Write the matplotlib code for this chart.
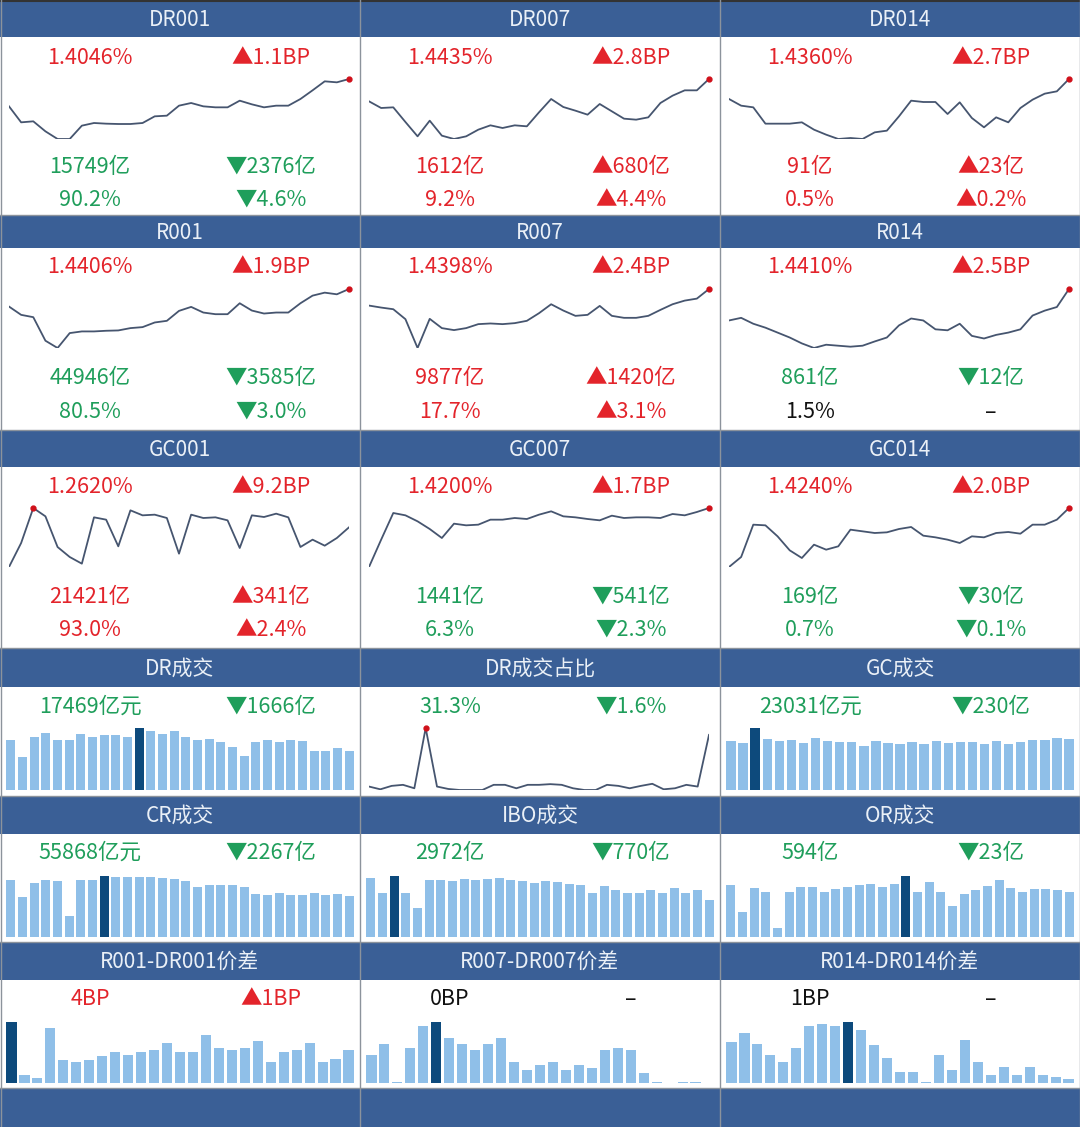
import matplotlib
matplotlib.use("Agg")
import matplotlib.pyplot as plt
from matplotlib.patches import Rectangle
import numpy as np

plt.rcParams['font.family'] = ['Noto Sans CJK SC', 'DejaVu Sans']

# ---------------- data ----------------
rate_titles = ["DR001", "DR007", "DR014", "R001", "R007", "R014", "GC001", "GC007", "GC014"]
rate_values = ["1.4046%", "1.4435%", "1.4360%", "1.4406%", "1.4398%", "1.4410%", "1.2620%", "1.4200%", "1.4240%"]
rate_chg_bp = [1.1, 2.8, 2.7, 1.9, 2.4, 2.5, 9.2, 1.7, 2.0]
volume_yi = [15749, 1612, 91, 44946, 9877, 861, 21421, 1441, 169]
volume_chg_yi = [-2376, 680, 23, -3585, 1420, -12, 341, -541, -30]
share_pct = [90.2, 9.2, 0.5, 80.5, 17.7, 1.5, 93.0, 6.3, 0.7]
share_chg_pct = [-4.6, 4.4, 0.2, -3.0, 3.1, None, 2.4, -2.3, -0.1]

# rate curves (relative level read from the sparklines)
dr001 = [130, 82, 85, 55, 32, 32, 72, 80, 78, 77, 77, 80, 100, 102, 132, 140, 130, 127, 127, 147, 136, 127, 132, 132, 152, 178, 205, 202, 212]
dr007 = [145, 125, 127, 83, 40, 87, 42, 32, 40, 60, 73, 65, 73, 70, 112, 152, 128, 117, 105, 137, 115, 93, 90, 97, 140, 162, 178, 178, 212]
dr014 = [152, 132, 127, 78, 78, 78, 82, 60, 45, 32, 35, 32, 52, 57, 100, 147, 143, 143, 107, 142, 95, 67, 97, 82, 125, 150, 168, 175, 212]
r001 = [175, 150, 143, 72, 50, 95, 100, 100, 102, 103, 110, 113, 127, 132, 162, 174, 157, 152, 152, 185, 163, 154, 157, 157, 185, 208, 217, 212, 228]
r007 = [178, 172, 167, 137, 50, 138, 110, 104, 110, 122, 124, 122, 125, 132, 155, 182, 163, 147, 150, 177, 147, 141, 141, 147, 165, 182, 193, 199, 228]
r014 = [132, 140, 122, 110, 95, 80, 62, 48, 58, 55, 52, 55, 68, 80, 117, 138, 132, 105, 102, 122, 85, 77, 88, 95, 105, 147, 162, 173, 228]
gc001 = [38, 110, 215, 190, 98, 68, 48, 187, 180, 100, 208, 193, 195, 185, 78, 195, 185, 187, 178, 95, 193, 188, 198, 187, 98, 120, 102, 125, 157]
gc007 = [38, 120, 200, 193, 175, 152, 125, 168, 163, 165, 180, 180, 185, 182, 195, 205, 190, 187, 182, 178, 192, 185, 187, 187, 185, 197, 193, 203, 215]
gc014 = [38, 68, 165, 163, 130, 88, 65, 105, 90, 100, 150, 145, 140, 142, 152, 158, 132, 127, 120, 110, 130, 127, 140, 143, 138, 165, 165, 180, 215]
rate_curves = [dr001, dr007, dr014, r001, r007, r014, gc001, gc007, gc014]

# lower panels
panel_titles = ["DR成交", "DR成交占比", "GC成交", "CR成交", "IBO成交", "OR成交",
                "R001-DR001价差", "R007-DR007价差", "R014-DR014价差"]
panel_left = ["17469亿元", "31.3%", "23031亿元", "55868亿元", "2972亿", "594亿", "4BP", "0BP", "1BP"]
panel_right = ["▼1666亿", "▼1.6%", "▼230亿", "▼2267亿", "▼770亿", "▼23亿", "▲1BP", "–", "–"]
panel_left_tone = ["down", "down", "down", "down", "down", "down", "up", "flat", "flat"]
panel_right_tone = ["down", "down", "down", "down", "down", "down", "up", "flat", "flat"]

dr_volume = [22800, 14900, 24150, 25800, 22800, 22500, 25400, 24150, 24900, 25100, 24150, 28100, 26900, 25400,
             26600, 24150, 22800, 23250, 21600, 19600, 15350, 21600, 22500, 21600, 22800, 22000, 17500, 17500,
             19135, 17469]
dr_share = [30, 22, 32, 35, 25, 200, 30, 23, 20, 20, 20, 35, 35, 25, 35, 35, 37, 35, 25, 20, 20, 35, 32, 25, 32,
            38, 22, 25, 35, 30, 180]
gc_volume = [21820, 21070, 27840, 23030, 21820, 22270, 21070, 23330, 21820, 21520, 21520, 19870, 21820, 21070,
             20770, 21520, 20770, 21820, 21070, 21520, 21520, 20770, 21820, 20770, 21520, 22580, 22270, 23261, 23031]
cr_volume = [77600, 54500, 73500, 77600, 76300, 28600, 77600, 77600, 83100, 81700, 81700, 81700, 81700, 80400,
             79000, 76300, 68100, 70800, 70800, 70800, 68100, 58600, 57200, 59900, 57200, 57200, 59900, 57200,
             58135, 55868]
ibo_volume = [4740, 3535, 4900, 3535, 2330, 4580, 4580, 4500, 4660, 4580, 4660, 4740, 4580, 4500, 4340, 4500,
              4420, 4260, 4180, 3535, 4100, 3775, 3535, 3535, 3775, 3535, 3935, 3535, 3742, 2972]
or_volume = [686, 330, 647, 594, 119, 594, 660, 660, 594, 634, 660, 686, 700, 660, 700, 805, 594, 726, 594, 409,
             568, 620, 673, 752, 647, 594, 634, 634, 617, 594]
spread_001 = [6.6, 0.9, 0.5, 5.9, 2.5, 2.3, 2.5, 2.9, 3.4, 3.0, 3.4, 3.6, 4.3, 3.4, 3.4, 5.2, 3.8, 3.6, 3.8, 4.5,
              2.3, 3.4, 3.6, 4.3, 2.3, 2.6, 3.6]
spread_007 = [3.1, 4.4, 0.1, 3.9, 6.3, 6.8, 5.0, 4.4, 3.7, 4.4, 5.0, 2.3, 1.4, 2.0, 2.3, 1.4, 2.0, 1.7, 3.7, 3.9,
              3.7, 1.1, 0.1, 0.0, 0.1, 0.1, -0.4]
spread_014 = [4.6, 5.6, 4.4, 3.1, 2.3, 3.9, 6.4, 6.6, 6.4, 6.8, 5.9, 4.2, 2.8, 1.2, 1.2, 0.1, 3.1, 1.4, 4.8, 2.3,
              0.9, 1.8, 0.9, 1.8, 0.9, 0.7, 0.5]
panel_series = [dr_volume, dr_share, gc_volume, cr_volume, ibo_volume, or_volume, spread_001, spread_007, spread_014]
panel_kind = ["bar", "line", "bar", "bar", "bar", "bar", "bar", "bar", "bar"]

# ---------------- style ----------------
HEADER = '#3A5F96'
HEADER_TXT = '#EAF0F7'
RED = '#E3242B'
GREEN = '#1F9E5B'
BLACK = '#111111'
LINE = '#46556F'
DOT = '#D0101A'
BAR = '#8FBFE8'
BAR_DARK = '#0D4A7C'
SEP = '#8C939C'
tone_color = {"up": RED, "down": GREEN, "flat": BLACK}

W, H = 1080, 1127
fig = plt.figure(figsize=(W / 100, H / 100), dpi=100)
fig.patch.set_facecolor('white')

bg = fig.add_axes([0, 0, 1, 1])
bg.set_xlim(0, W)
bg.set_ylim(H, 0)
bg.axis('off')


def ax_px(x0, y0, x1, y1):
    a = fig.add_axes([x0 / W, 1 - y1 / H, (x1 - x0) / W, (y1 - y0) / H])
    a.axis('off')
    a.patch.set_alpha(0)
    return a


def rect(x0, y0, x1, y1, color):
    bg.add_patch(Rectangle((x0, y0), x1 - x0, y1 - y0, facecolor=color, edgecolor='none', zorder=1))


rows = [
    dict(hdr=(1, 37), ty=20, v1=58, band=(79, 139), v2=167, v3=200, bottom=214),
    dict(hdr=(216, 248), ty=233, v1=267, band=(289, 348), v2=378, v3=412, bottom=429),
    dict(hdr=(431, 467), ty=450, v1=487, band=(508, 567), v2=597, v3=630, bottom=647),
    dict(hdr=(649, 687), ty=669, v1=707, band=(728, 790), bottom=795),
    dict(hdr=(797, 834), ty=816, v1=853, band=(876, 937), bottom=941),
    dict(hdr=(943, 980), ty=962, v1=999, band=(1022, 1083), bottom=1087),
]

FS_T = 15
FS_V = 15.5
LX, RX = 90, 271


def draw_line(col, band, data):
    x0 = col * 360
    a = ax_px(x0 + 9, band[0], x0 + 349, band[1])
    n = len(data)
    xs = np.arange(n)
    a.plot(xs, data, color=LINE, lw=1.3, solid_joinstyle='round')
    k = int(np.argmax(data))
    a.plot([k], [data[k]], 'o', color=DOT, ms=3.5, clip_on=False, zorder=5)
    a.set_xlim(0, n - 1)
    a.set_ylim(min(data), max(data))


def draw_bar(col, band, data):
    x0 = col * 360
    a = ax_px(x0 + 5, band[0], x0 + 355, band[1])
    n = len(data)
    k = int(np.argmax(data))
    colors = [BAR_DARK if i == k else BAR for i in range(n)]
    a.bar(np.arange(n), data, width=0.78, color=colors)
    a.set_xlim(-0.5, n - 0.5)
    a.set_ylim(0, max(data))


# rate panels
for i in range(9):
    r, c = divmod(i, 3)
    R = rows[r]
    x0 = c * 360
    rect(x0, R['hdr'][0], x0 + 360, R['hdr'][1], HEADER)
    bg.text(x0 + 180, R['ty'], rate_titles[i], ha='center', va='center', fontsize=FS_T, color=HEADER_TXT, zorder=3)
    bg.text(x0 + LX, R['v1'], rate_values[i], ha='center', va='center', fontsize=FS_V, color=RED, zorder=3)
    bg.text(x0 + RX, R['v1'], "▲%.1fBP" % rate_chg_bp[i], ha='center', va='center', fontsize=FS_V, color=RED, zorder=3)
    vc = volume_chg_yi[i]
    vcol = RED if vc > 0 else GREEN
    bg.text(x0 + LX, R['v2'], "%d亿" % volume_yi[i], ha='center', va='center', fontsize=FS_V, color=vcol, zorder=3)
    bg.text(x0 + RX, R['v2'], ("▲" if vc > 0 else "▼") + "%d亿" % abs(vc), ha='center', va='center',
            fontsize=FS_V, color=vcol, zorder=3)
    sc = share_chg_pct[i]
    if sc is None:
        scol, stxt = BLACK, "–"
    else:
        scol = RED if sc > 0 else GREEN
        stxt = ("▲" if sc > 0 else "▼") + "%.1f%%" % abs(sc)
    bg.text(x0 + LX, R['v3'], "%.1f%%" % share_pct[i], ha='center', va='center', fontsize=FS_V, color=scol, zorder=3)
    bg.text(x0 + RX, R['v3'], stxt, ha='center', va='center', fontsize=FS_V, color=scol, zorder=3)
    draw_line(c, R['band'], rate_curves[i])

# lower panels
for i in range(9):
    r, c = divmod(i, 3)
    R = rows[3 + r]
    x0 = c * 360
    rect(x0, R['hdr'][0], x0 + 360, R['hdr'][1], HEADER)
    bg.text(x0 + 180, R['ty'], panel_titles[i], ha='center', va='center', fontsize=FS_T, color=HEADER_TXT, zorder=3)
    bg.text(x0 + LX, R['v1'], panel_left[i], ha='center', va='center', fontsize=FS_V,
            color=tone_color[panel_left_tone[i]], zorder=3)
    bg.text(x0 + RX, R['v1'], panel_right[i], ha='center', va='center', fontsize=FS_V,
            color=tone_color[panel_right_tone[i]], zorder=3)
    if panel_kind[i] == 'line':
        draw_line(c, R['band'], panel_series[i])
    else:
        draw_bar(c, R['band'], panel_series[i])

# bottom band
for c in range(3):
    rect(c * 360, 1089, c * 360 + 360, H, HEADER)

# separators
for R in rows:
    bg.plot([0, W], [R['bottom'] + 0.5, R['bottom'] + 0.5], color=SEP, lw=1.0, zorder=4)
bg.plot([0, W], [0.5, 0.5], color='#333333', lw=1.5, zorder=4)
for xv in [0.5, 360, 720, W - 0.5]:
    bg.plot([xv, xv], [0, H], color=SEP, lw=1.0, zorder=4)

fig.savefig('out.png', dpi=100, facecolor='white')
